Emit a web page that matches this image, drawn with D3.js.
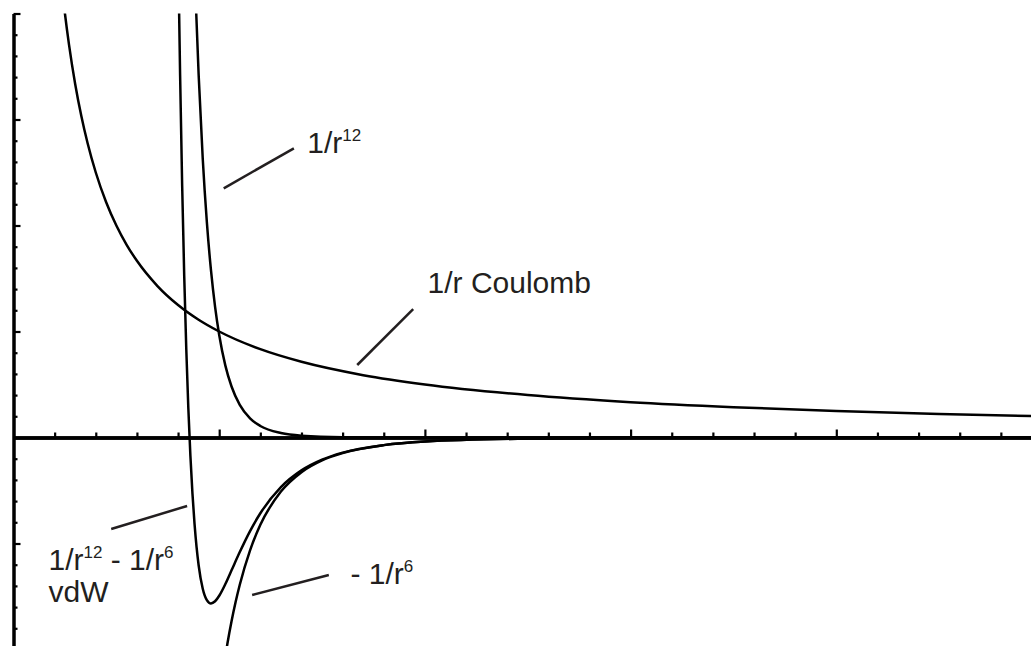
<!DOCTYPE html>
<html>
<head>
<meta charset="utf-8">
<script src="https://cdn.jsdelivr.net/npm/d3@7"></script>
<style>
  body { margin: 0; background: #fff; }
  svg { display: block; }
  text { font-family: "Liberation Sans", Arial, sans-serif; fill: #231f20; }
</style>
</head>
<body>
<div id="chart"></div>
<script>
// values (r on x, energy on y)
var coulombR = [0.24, 0.25, 0.27, 0.3, 0.33, 0.36, 0.4, 0.45, 0.5, 0.55, 0.6, 0.7, 0.8, 0.9, 1.0, 1.2, 1.4, 1.7, 2.0, 2.5, 3.0, 3.5, 4.0, 4.5, 5.0];
var coulombE = [4.167, 4.0, 3.704, 3.333, 3.030, 2.778, 2.5, 2.222, 2.0, 1.818, 1.667, 1.429, 1.25, 1.111, 1.0, 0.833, 0.714, 0.588, 0.5, 0.4, 0.333, 0.286, 0.25, 0.222, 0.2];

var repR = [0.885, 0.888, 0.9, 0.92, 0.94, 0.96, 0.98, 1.0, 1.03, 1.06, 1.1, 1.15, 1.2, 1.3, 1.4, 1.6, 2.0, 3.0, 5.0];
var repE = [4.19, 4.02, 3.424, 2.630, 2.032, 1.578, 1.232, 0.967, 0.678, 0.481, 0.308, 0.181, 0.109, 0.042, 0.017, 0.0034, 0.0002, 0, 0];

var vdwR = [0.804, 0.81, 0.82, 0.83, 0.84, 0.85, 0.86, 0.87, 0.88, 0.89, 0.9, 0.92, 0.94, 0.96, 0.98, 1.0, 1.03, 1.06, 1.1, 1.15, 1.2, 1.3, 1.4, 1.5, 1.6, 1.8, 2.0, 2.5, 3.0, 4.0, 5.0];
var vdwE = [4.147, 3.415, 2.372, 1.520, 0.833, 0.274, -0.173, -0.529, -0.813, -1.035, -1.205, -1.427, -1.534, -1.565, -1.545, -1.493, -1.382, -1.253, -1.081, -0.883, -0.715, -0.468, -0.310, -0.209, -0.143, -0.072, -0.038, -0.010, -0.003, -0.001, 0];

var attR = [1.03, 1.04, 1.06, 1.08, 1.1, 1.15, 1.2, 1.3, 1.4, 1.5, 1.6, 1.8, 2.0, 2.5, 3.0, 4.0, 5.0];
var attE = [-2.060, -1.944, -1.734, -1.550, -1.389, -1.064, -0.824, -0.510, -0.327, -0.216, -0.147, -0.072, -0.038, -0.010, -0.003, -0.001, 0];

var xMajor = [1, 2, 3, 4];
var yMajor = [-1, 1, 2, 3, 4];

// label text and where it sits, in data units
var labels = [
  { x: 1.428, y: 2.687, parts: [["1/r", 0], ["12", 1]] },
  { x: 2.013, y: 1.366, parts: [["1/r Coulomb", 0]] },
  { x: 0.170, y: -1.25, parts: [["1/r", 0], ["12", 1], [" - 1/r", 0], ["6", 1]] },
  { x: 0.170, y: -1.549, parts: [["vdW", 0]] },
  { x: 1.638, y: -1.385, parts: [["- 1/r", 0], ["6", 1]] }
];
var leaders = [
  [[1.022, 2.351], [1.363, 2.728]],
  [[1.671, 0.684], [1.943, 1.212]],
  [[0.475, -0.863], [0.844, -0.646]],
  [[1.160, -1.486], [1.533, -1.297]]
];

var svgWidth = 1031;
var svgHeight = 646;

var svg = d3.select("#chart")
  .append("svg")
  .attr("width", svgWidth)
  .attr("height", svgHeight);

var x = d3.scaleLinear().domain([0, 5]).range([13.5, 1042]);
var y = d3.scaleLinear().domain([-2, 4]).range([649.5, 13.5]);

var xMinor = d3.range(1, 25).map(i => i / 5).filter(v => xMajor.indexOf(v) < 0);
var yMinor = d3.range(-10, 20).map(i => i / 5).filter(v => v !== 0 && yMajor.indexOf(v) < 0);

svg.append("clipPath")
  .attr("id", "plot")
  .append("rect")
  .attr("x", x(0))
  .attr("y", y(4))
  .attr("width", svgWidth - x(0))
  .attr("height", svgHeight - y(4));

var line = d3.line()
  .x(d => x(d[0]))
  .y(d => y(d[1]))
  .curve(d3.curveMonotoneX);

var series = [
  d3.zip(coulombR, coulombE),
  d3.zip(repR, repE),
  d3.zip(vdwR, vdwE),
  d3.zip(attR, attE)
];

svg.append("g")
  .attr("clip-path", "url(#plot)")
  .selectAll("path")
  .data(series)
  .enter()
  .append("path")
  .attr("d", line)
  .attr("fill", "none")
  .attr("stroke", "#000")
  .attr("stroke-width", 2.5);

// axes
function styleAxis(g, w) {
  g.select(".domain").attr("stroke", "#000").attr("stroke-width", w);
  g.selectAll(".tick line").attr("stroke", "#000").attr("stroke-width", 2.2);
  g.selectAll(".tick text").remove();
}

var xg = svg.append("g").attr("transform", `translate(0, ${y(0)})`);
xg.append("g")
  .call(d3.axisTop(x).tickValues(xMinor).tickSize(5).tickSizeOuter(0).tickFormat(""))
  .call(g => styleAxis(g, 3.5));
xg.append("g")
  .call(d3.axisTop(x).tickValues(xMajor).tickSize(8).tickSizeOuter(0).tickFormat(""))
  .call(g => styleAxis(g, 3.5));

var yg = svg.append("g").attr("transform", `translate(${x(0)}, 0)`);
yg.append("g")
  .call(d3.axisRight(y).tickValues(yMinor).tickSize(4).tickSizeOuter(0).tickFormat(""))
  .call(g => styleAxis(g, 3));
yg.append("g")
  .call(d3.axisRight(y).tickValues(yMajor).tickSize(7).tickSizeOuter(0).tickFormat(""))
  .call(g => styleAxis(g, 3));

// leader lines
svg.selectAll(".leader")
  .data(leaders)
  .enter()
  .append("line")
  .attr("class", "leader")
  .attr("x1", d => x(d[0][0]))
  .attr("y1", d => y(d[0][1]))
  .attr("x2", d => x(d[1][0]))
  .attr("y2", d => y(d[1][1]))
  .attr("stroke", "#231f20")
  .attr("stroke-width", 2.5);

// labels with superscripts
var labelText = svg.selectAll(".label")
  .data(labels)
  .enter()
  .append("text")
  .attr("class", "label")
  .attr("x", d => x(d.x))
  .attr("y", d => y(d.y))
  .attr("font-size", "30px");

labelText.each(function(d) {
  var t = d3.select(this);
  var up = false;
  d.parts.forEach(p => {
    var dy = 0;
    if (p[1] && !up) { dy = -12; up = true; }
    else if (!p[1] && up) { dy = 12; up = false; }
    t.append("tspan")
      .attr("dy", dy)
      .attr("font-size", p[1] ? "17px" : "30px")
      .text(p[0]);
  });
});
</script>
</body>
</html>
